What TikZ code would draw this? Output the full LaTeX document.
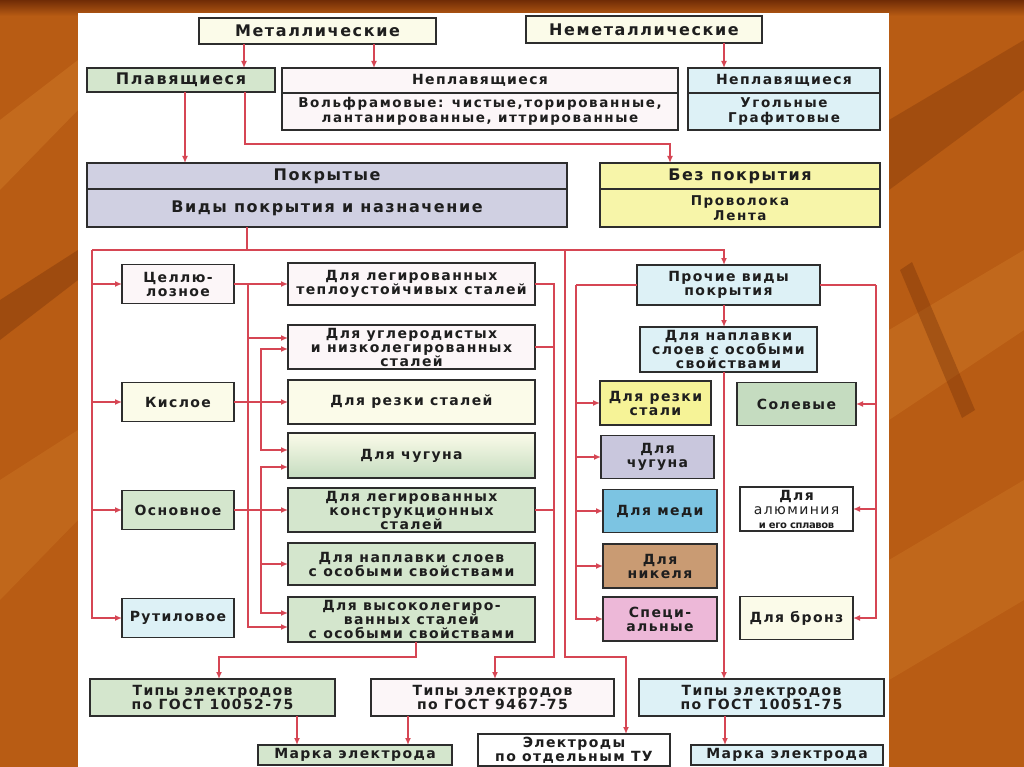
\documentclass[tikz,border=0pt]{standalone}
\usepackage{fontspec}
\setmainfont{DejaVu Sans}[LetterSpace=10]
\usepackage{tikz}
\usetikzlibrary{arrows.meta, positioning, calc}
\definecolor{bgorange}{RGB}{184,92,20}
\definecolor{bgdark}{RGB}{112,44,6}
\definecolor{bglight}{RGB}{206,120,38}
\definecolor{boxline}{RGB}{45,45,45}
\definecolor{textdark}{RGB}{30,30,30}
\definecolor{redline}{RGB}{214,70,84}
\definecolor{creamc}{RGB}{251,251,233}
\definecolor{greenc}{RGB}{212,230,205}
\definecolor{salty}{RGB}{197,220,192}
\definecolor{pinkw}{RGB}{252,246,248}
\definecolor{cyanc}{RGB}{221,241,246}
\definecolor{lavc}{RGB}{208,208,226}
\definecolor{yellowc}{RGB}{247,245,169}
\definecolor{yellowd}{RGB}{246,243,151}
\definecolor{lilac}{RGB}{201,199,221}
\definecolor{copperc}{RGB}{124,196,226}
\definecolor{nickelc}{RGB}{201,155,115}
\definecolor{specc}{RGB}{237,184,216}

\begin{document}
\begin{tikzpicture}[
    x=1pt, y=-1pt,
    box/.style={rectangle, draw=boxline, line width=1.6pt, inner sep=0pt, outer sep=0pt,
                align=center, text=textdark, font=\bfseries\fontsize{14}{14}\selectfont},
    head/.style={box, font=\bfseries\fontsize{16}{18}\selectfont},
    small/.style={font=\bfseries\fontsize{13.5}{14.5}\selectfont\addfontfeatures{LetterSpace=12}},
    line/.style={draw=redline, line width=1.8pt},
    arr/.style={line, -{Latex[length=7pt, width=6pt]}},
]
    \useasboundingbox (0,0) rectangle (1024,767);
    \fill[bgorange] (0,0) rectangle (1024,767);
    \fill[bglight, opacity=0.5] (0,120) -- (78,60) -- (78,110) -- (0,190) -- cycle;
    \fill[bgdark, opacity=0.35] (0,300) -- (78,250) -- (78,280) -- (0,340) -- cycle;
    \fill[bglight, opacity=0.4] (0,480) -- (78,430) -- (78,520) -- (0,600) -- cycle;
    \fill[bgdark, opacity=0.3] (889,120) -- (1024,40) -- (1024,90) -- (889,190) -- cycle;
    \fill[bglight, opacity=0.45] (889,330) -- (1024,250) -- (1024,330) -- (889,420) -- cycle;
    \fill[bgdark, opacity=0.35] (900,270) -- (912,262) -- (975,410) -- (962,418) -- cycle;
    \fill[bglight, opacity=0.4] (889,560) -- (1024,480) -- (1024,600) -- (889,680) -- cycle;
    \shade[top color=bgdark, bottom color=bgorange] (0,0) rectangle (1024,16);
    \fill[white] (78,13) rectangle (889,767);

    \node[head, fill=creamc, minimum width=237, minimum height=26] (met) at (317.5,31) {Металлические};
    \node[head, fill=creamc, minimum width=236, minimum height=27] (nonmet) at (644,29.5) {Неметаллические};
    \node[head, fill=greenc, minimum width=188, minimum height=24] (plav) at (181,80) {Плавящиеся};
    \node[box, fill=pinkw, minimum width=396, minimum height=25] (nepl) at (480,80.5) {Неплавящиеся};
    \node[box, small, fill=pinkw, minimum width=396, minimum height=37, below=0pt of nepl] (neplb)
        {Вольфрамовые: чистые,торированные,\\лантанированные, иттрированные};
    \node[box, fill=cyanc, minimum width=192, minimum height=25] (nepln) at (784,80.5) {Неплавящиеся};
    \node[box, small, fill=cyanc, minimum width=192, minimum height=37, below=0pt of nepln] (neplnb) {Угольные\\Графитовые};
    \node[head, fill=lavc, minimum width=480, minimum height=26] (pokr) at (327,176) {Покрытые};
    \node[head, fill=lavc, minimum width=480, minimum height=38, below=0pt of pokr] (pokrb) {Виды покрытия и назначение};
    \node[head, fill=yellowc, minimum width=280, minimum height=26] (bezp) at (740,176) {Без покрытия};
    \node[box, small, fill=yellowc, minimum width=280, minimum height=38, below=0pt of bezp] (bezpb) {Проволока\\Лента};

    \node[box, fill=pinkw, minimum width=112, minimum height=39] (cell) at (178,284) {Целлю-\\лозное};
    \node[box, fill=creamc, minimum width=112, minimum height=39] (kisl) at (178,402) {Кислое};
    \node[box, fill=greenc, minimum width=112, minimum height=39] (osn) at (178,510) {Основное};
    \node[box, fill=cyanc, minimum width=112, minimum height=39] (rutil) at (178,618) {Рутиловое};

    \node[box, fill=pinkw, minimum width=247, minimum height=42] (tepl) at (411.5,284) {Для легированных\\теплоустойчивых сталей};
    \node[box, fill=pinkw, minimum width=247, minimum height=44] (uglr) at (411.5,347) {Для углеродистых\\и низколегированных\\сталей};
    \node[box, fill=creamc, minimum width=247, minimum height=44] (rezk) at (411.5,402) {Для резки сталей};
    \node[box, top color=creamc, bottom color=salty, minimum width=247, minimum height=45] (chug) at (411.5,455.5) {Для чугуна};
    \node[box, fill=greenc, minimum width=247, minimum height=44] (konstr) at (411.5,510) {Для легированных\\конструкционных\\сталей};
    \node[box, fill=greenc, minimum width=247, minimum height=42] (napl) at (411.5,564) {Для наплавки слоев\\с особыми свойствами};
    \node[box, fill=greenc, minimum width=247, minimum height=45] (vysok) at (411.5,619.5) {Для высоколегиро-\\ванных сталей\\с особыми свойствами};

    \node[box, fill=cyanc, minimum width=183, minimum height=40] (proch) at (728.5,285) {Прочие виды\\покрытия};
    \node[box, fill=cyanc, minimum width=177, minimum height=45] (naplr) at (728.5,349.5) {Для наплавки\\слоев с особыми\\свойствами};
    \node[box, fill=yellowd, minimum width=111, minimum height=44] (rezkr) at (655.5,403) {Для резки\\стали};
    \node[box, fill=lilac, minimum width=113, minimum height=43] (chugr) at (657.5,457) {Для\\чугуна};
    \node[box, fill=copperc, minimum width=114, minimum height=43] (medi) at (660,511) {Для меди};
    \node[box, fill=nickelc, minimum width=114, minimum height=44] (nikel) at (660,566) {Для\\никеля};
    \node[box, fill=specc, minimum width=114, minimum height=44] (spec) at (660,619) {Специ-\\альные};
    \node[box, fill=salty, minimum width=119, minimum height=43] (solev) at (796.5,404) {Солевые};
    \node[box, fill=white, minimum width=113, minimum height=44] (alum) at (796.5,509)
        {Для\\{\mdseries алюминия}\\{\fontsize{10}{11}\selectfont\addfontfeatures{LetterSpace=-4}и его сплавов}};
    \node[box, fill=creamc, minimum width=113, minimum height=43] (bronz) at (796.5,618) {Для бронз};

    \node[box, fill=greenc, minimum width=245, minimum height=37] (gost52) at (212.5,697.5) {Типы электродов\\по ГОСТ 10052-75};
    \node[box, fill=pinkw, minimum width=243, minimum height=37] (gost67) at (492.5,697.5) {Типы электродов\\по ГОСТ 9467-75};
    \node[box, fill=cyanc, minimum width=245, minimum height=37] (gost51) at (761.5,697.5) {Типы электродов\\по ГОСТ 10051-75};
    \node[box, fill=greenc, minimum width=194, minimum height=20] (marka1) at (355,755) {Марка электрода};
    \node[box, fill=white, minimum width=192, minimum height=32] (tu) at (574,750) {Электроды\\по отдельным ТУ};
    \node[box, fill=cyanc, minimum width=192, minimum height=20] (marka2) at (787,755) {Марка электрода};

    \coordinate (busl) at (92,250);

    \draw[arr] ([xshift=-73.5]met.south) -- ([xshift=-73.5]met.south |- plav.north);
    \draw[arr] ([xshift=56.5]met.south) -- ([xshift=56.5]met.south |- nepl.north);
    \draw[arr] ([xshift=80]nonmet.south) -- ([xshift=80]nonmet.south |- nepln.north);
    \draw[arr] ([xshift=4]plav.south) -- ([xshift=4]plav.south |- pokr.north);
    \draw[arr] ([xshift=64]plav.south) -- ++(0,52) -| ([xshift=-70]bezp.north);
    \draw[line] ([xshift=-80]pokrb.south) -- ([xshift=-80]pokrb.south |- busl);
    \draw[arr] (busl) -| ([xshift=-4.5]proch.north);
    \draw[arr] (busl) |- (cell.west);
    \draw[arr] (busl) |- (kisl.west);
    \draw[arr] (busl) |- (osn.west);
    \draw[arr] (busl) |- (rutil.west);
    \draw[arr] ([xshift=473]busl) -- ++(0,407) -| ([xshift=52]tu.north);

    \draw[arr] (cell.east) -- (tepl.west);
    \draw[arr] ([xshift=14]cell.east) |- ([yshift=9]uglr.west);
    \draw[arr] ([xshift=14]cell.east) |- ([yshift=-7.5]vysok.west);
    \draw[arr] (kisl.east) -- (rezk.west);
    \draw[arr] ([xshift=27]kisl.east) |- ([yshift=-2]uglr.west);
    \draw[arr] ([xshift=27]kisl.east) |- ([yshift=5.5]chug.west);
    \draw[arr] (osn.east) -- (konstr.west);
    \draw[arr] ([xshift=27]osn.east) |- ([yshift=-11.5]chug.west);
    \draw[arr] ([xshift=27]osn.east) |- (napl.west);
    \draw[arr] ([xshift=27]osn.east) |- ([yshift=6.5]vysok.west);

    \draw[arr] (tepl.east) -- ++(19,0) -- ++(0,373) -| ([xshift=2.5]gost67.north);
    \draw[line] (uglr.east) -- ++(19,0);
    \draw[line] (konstr.east) -- ++(19,0);
    \draw[arr] ([xshift=4.5]vysok.south) -- ++(0,15) -| ([xshift=6.5]gost52.north);

    \draw[line] (proch.west) -- ++(-61,0);
    \draw[arr] ([xshift=-61]proch.west) |- (rezkr.west);
    \draw[arr] ([xshift=-61]proch.west) |- (chugr.west);
    \draw[arr] ([xshift=-61]proch.west) |- (medi.west);
    \draw[arr] ([xshift=-61]proch.west) |- (nikel.west);
    \draw[arr] ([xshift=-61]proch.west) |- (spec.west);
    \draw[line] (proch.east) -- ++(56,0);
    \draw[arr] ([xshift=56]proch.east) |- (solev.east);
    \draw[arr] ([xshift=56]proch.east) |- (alum.east);
    \draw[arr] ([xshift=56]proch.east) |- (bronz.east);
    \draw[arr] ([xshift=-4.5]proch.south) -- ([xshift=-4.5]proch.south |- naplr.north);
    \draw[arr] ([xshift=-4.5]naplr.south) -- ([xshift=-4.5]naplr.south |- gost51.north);

    \draw[arr] ([xshift=84.5]gost52.south) -- ([xshift=84.5]gost52.south |- marka1.north);
    \draw[arr] ([xshift=-84.5]gost67.south) -- ([xshift=-84.5]gost67.south |- marka1.north);
    \draw[arr] ([xshift=-36.5]gost51.south) -- ([xshift=-36.5]gost51.south |- marka2.north);
\end{tikzpicture}
\end{document}
